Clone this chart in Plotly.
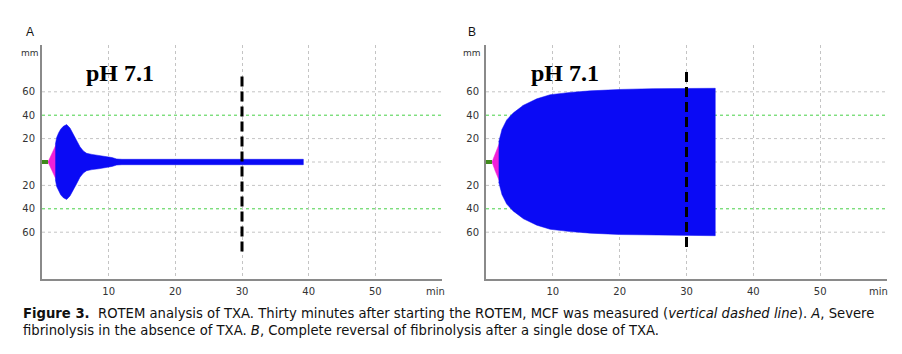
import plotly.graph_objects as go

# ---------------- data ----------------
# Panel A (no TXA) - amplitude envelope (mm) vs time (min)
a_green_t = [0.0, 0.9]
a_pink_t = [0.9, 1.4, 1.8, 2.2]
a_pink_amp = [0.0, 6.0, 11.0, 16.0]
a_blue_t = [2.0, 2.2, 2.5, 2.8, 3.2, 3.7, 4.2, 4.7, 5.2, 5.7, 6.2, 6.7, 7.5, 8.5, 9.7, 10.5, 11.2, 12.0, 39.2]
a_blue_amp = [15.0, 21.0, 25.0, 28.0, 30.5, 32.0, 29.0, 24.0, 18.5, 13.0, 9.5, 7.4, 6.5, 5.8, 4.8, 3.8, 2.6, 2.3, 2.3]

# Panel B (after TXA)
b_green_t = [0.0, 0.9]
b_pink_t = [0.9, 1.4, 1.8, 2.2]
b_pink_amp = [0.0, 8.0, 14.0, 19.0]
b_blue_t = [1.9, 2.4, 3.1, 4.1, 5.6, 7.6, 9.6, 12.6, 15.6, 20.0, 25.0, 34.3]
b_blue_amp = [17.0, 28.0, 36.0, 42.0, 48.5, 54.0, 57.5, 59.5, 60.8, 62.0, 62.7, 63.0]

# MCF measurement marker (vertical dashed line at 30 min)
a_mcf_t = [30, 30]
a_mcf_y = [73, -79]
b_mcf_t = [30, 30]
b_mcf_y = [77, -75]

x_ticks = [10, 20, 30, 40, 50]
x_ticklabels = ["10", "20", "30", "40", "50"]
y_ticks = [-60, -40, -20, 20, 40, 60]
y_ticklabels = ["60", "40", "20", "20", "40", "60"]
grid_levels = [-60, -40, -20, 0, 20, 40, 60]
green_levels = [-40, 40]

panel_labels = ["A", "B"]
ph_label = "pH 7.1"

caption_line1 = ("<b>Figure 3.</b>  ROTEM analysis of TXA. Thirty minutes after starting the ROTEM, "
                 "MCF was measured (<i>vertical dashed line</i>). <i>A</i>, Severe")
caption_line2 = ("fibrinolysis in the absence of TXA. <i>B</i>, Complete reversal of fibrinolysis "
                 "after a single dose of TXA.")

# ---------------- styles ----------------
BLUE = "#0a0af5"
PINK = "#f020d8"
GREEN = "#3f8a1c"
GRID = "#c4c4c4"
GGRID = "#46d046"
AXIS = "#8a8a8a"
W, H = 902, 354


def envelope(t, amp):
    xs = list(t) + list(t)[::-1]
    ys = list(amp) + [-a for a in list(amp)[::-1]]
    return xs, ys


fig = go.Figure()

panels = [
    ("x", "y", a_green_t, a_pink_t, a_pink_amp, a_blue_t, a_blue_amp, a_mcf_t, a_mcf_y),
    ("x2", "y2", b_green_t, b_pink_t, b_pink_amp, b_blue_t, b_blue_amp, b_mcf_t, b_mcf_y),
]

for xa, ya, gt, pt, pa, bt, ba, mt, my in panels:
    px, py = envelope(pt, pa)
    fig.add_trace(go.Scatter(x=px, y=py, xaxis=xa, yaxis=ya, mode="lines", fill="toself",
                             fillcolor=PINK, line=dict(color=PINK, width=0.5),
                             hoverinfo="skip", showlegend=False))
    bx, by = envelope(bt, ba)
    fig.add_trace(go.Scatter(x=bx, y=by, xaxis=xa, yaxis=ya, mode="lines", fill="toself",
                             fillcolor=BLUE, line=dict(color=BLUE, width=0.5),
                             hoverinfo="skip", showlegend=False))
    fig.add_trace(go.Scatter(x=gt, y=[0, 0], xaxis=xa, yaxis=ya, mode="lines",
                             line=dict(color=GREEN, width=4), hoverinfo="skip", showlegend=False))
    fig.add_trace(go.Scatter(x=mt, y=my, xaxis=xa, yaxis=ya, mode="lines",
                             line=dict(color="black", width=3, dash="10px,5px"),
                             hoverinfo="skip", showlegend=False))

x_domains = [[42 / W, 442 / W], [486 / W, 887 / W]]
y_domain = [1 - 279 / H, 1 - 45 / H]

tick_font = dict(family="DejaVu Sans", size=10, color="#333333")
for i, (xname, yname) in enumerate([("xaxis", "yaxis"), ("xaxis2", "yaxis2")]):
    suffix = "" if i == 0 else "2"
    fig.layout[xname] = dict(domain=x_domains[i], range=[0, 60], anchor="y" + suffix,
                             tickvals=x_ticks, ticktext=x_ticklabels, ticks="",
                             showgrid=True, gridcolor=GRID, griddash="dot", gridwidth=1,
                             showline=True, linecolor=AXIS, linewidth=2, zeroline=False,
                             tickfont=tick_font, ticklabelstandoff=2, fixedrange=True)
    fig.layout[yname] = dict(domain=y_domain, range=[-100, 100], anchor="x" + suffix,
                             tickvals=y_ticks, ticktext=y_ticklabels, ticks="",
                             showgrid=False, showline=True, linecolor=AXIS, linewidth=2,
                             zeroline=False, tickfont=tick_font, ticklabelstandoff=3,
                             fixedrange=True)
    for v in grid_levels:
        fig.add_shape(type="line", xref=("x" + suffix + " domain"), yref=("y" + suffix),
                      x0=0, x1=1, y0=v, y1=v, layer="below",
                      line=dict(color=GGRID if v in green_levels else GRID, width=1, dash="dot"))

annotations = []
# panel letters, mm / min units, pH labels
for cx, lab in zip([30, 472], panel_labels):
    annotations.append(dict(text=lab, x=cx / W, y=1 - 32 / H, xref="paper", yref="paper",
                            showarrow=False, xanchor="center", yanchor="middle",
                            font=dict(family="Liberation Sans", size=12, color="#111111")))
for cx in [30, 472]:
    annotations.append(dict(text="mm", x=cx / W, y=1 - 53 / H, xref="paper", yref="paper",
                            showarrow=False, xanchor="center", yanchor="middle",
                            font=dict(family="DejaVu Sans", size=9, color="#333333")))
for cx in [435, 878]:
    annotations.append(dict(text="min", x=cx / W, y=1 - 291 / H, xref="paper", yref="paper",
                            showarrow=False, xanchor="center", yanchor="middle", font=tick_font))
for cx in [120, 565]:
    annotations.append(dict(text="<b>" + ph_label + "</b>", x=cx / W, y=1 - 73 / H,
                            xref="paper", yref="paper", showarrow=False,
                            xanchor="center", yanchor="middle",
                            font=dict(family="Liberation Serif", size=24, color="black")))
cap_font = dict(family="DejaVu Sans", size=13.2, color="#111111")
annotations.append(dict(text=caption_line1 + "<br>" + caption_line2, x=21 / W, y=1 - 321.5 / H,
                        xref="paper", yref="paper", showarrow=False, xanchor="left",
                        yanchor="middle", align="left", font=cap_font))

fig.update_layout(width=W, height=H, margin=dict(l=0, r=0, t=0, b=0),
                  paper_bgcolor="white", plot_bgcolor="white",
                  annotations=annotations, showlegend=False)

fig.write_html("out.html", config={"displayModeBar": False})
